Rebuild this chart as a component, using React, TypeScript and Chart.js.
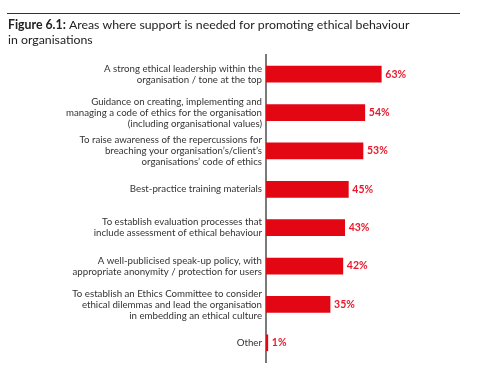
import React, { useEffect, useRef } from "react";
import { Chart, registerables } from "chart.js";

Chart.register(...registerables);

const categories: string[][] = [
  ["A strong ethical leadership within the", "organisation / tone at the top"],
  ["Guidance on creating, implementing and", "managing a code of ethics for the organisation", "(including organisational values)"],
  ["To raise awareness of the repercussions for", "breaching your organisation’s/client’s", "organisations’ code of ethics"],
  ["Best-practice training materials"],
  ["To establish evaluation processes that", "include assessment of ethical behaviour"],
  ["A well-publicised speak-up policy, with", "appropriate anonymity / protection for users"],
  ["To establish an Ethics Committee to consider", "ethical dilemmas and lead the organisation", "in embedding an ethical culture"],
  ["Other"],
];
const values: number[] = [63, 54, 53, 45, 43, 42, 35, 1];

const titleBold = "Figure 6.1:";
const titleLine1 = " Areas where support is needed for promoting ethical behaviour";
const titleLine2 = "in organisations";

const FONT = "Lato, 'Open Sans', sans-serif";
const RED = "#e30613";

const headerPlugin = {
  id: "header",
  afterDraw(chart: any) {
    const ctx = chart.ctx;
    ctx.save();
    ctx.strokeStyle = "#333";
    ctx.lineWidth = 1;
    ctx.beginPath();
    ctx.moveTo(7, 13.5);
    ctx.lineTo(460, 13.5);
    ctx.stroke();
    ctx.fillStyle = "#222";
    ctx.textBaseline = "middle";
    ctx.textAlign = "left";
    ctx.font = `bold 12.3px ${FONT}`;
    ctx.fillText(titleBold, 8, 25);
    const w = ctx.measureText(titleBold).width;
    ctx.font = `12.3px ${FONT}`;
    ctx.fillText(titleLine1, 8 + w, 25);
    ctx.fillText(titleLine2, 8, 40);
    ctx.restore();
  },
};

const valueLabelPlugin = {
  id: "valueLabels",
  afterDatasetsDraw(chart: any) {
    const ctx = chart.ctx;
    const meta = chart.getDatasetMeta(0);
    ctx.save();
    ctx.fillStyle = "#e8192c";
    ctx.font = `bold 10.5px ${FONT}`;
    ctx.textBaseline = "middle";
    ctx.textAlign = "left";
    meta.data.forEach((bar: any, i: number) => {
      ctx.fillText(values[i] + "%", bar.x + 4, bar.y);
    });
    ctx.restore();
  },
};

export default function App() {
  const ref = useRef<HTMLCanvasElement>(null);
  useEffect(() => {
    if (!ref.current) return;
    const chart = new Chart(ref.current, {
      type: "bar",
      data: {
        labels: categories,
        datasets: [
          {
            data: values,
            backgroundColor: RED,
            barThickness: 16,
          },
        ],
      },
      options: {
        indexAxis: "y",
        animation: false,
        responsive: false,
        layout: { padding: { top: 55, bottom: 28, right: 38, left: 0 } },
        plugins: { legend: { display: false }, tooltip: { enabled: false }, title: { display: false } },
        scales: {
          x: { display: false, min: 0, max: 100 },
          y: {
            afterFit: (scale: any) => {
              scale.width = 266;
            },
            grid: { display: false, drawTicks: false },
            border: { display: true, color: "#7a7a7a", width: 2 },
            ticks: {
              padding: 4,
              color: "#333",
              font: { family: FONT, size: 9.7, lineHeight: 1.14 },
            },
          },
        },
      },
      plugins: [headerPlugin, valueLabelPlugin],
    });
    return () => chart.destroy();
  }, []);
  return (
    <canvas
      ref={ref}
      width={487}
      height={390}
      style={{ position: "absolute", left: 0, top: 0, width: 487, height: 390 }}
    />
  );
}
